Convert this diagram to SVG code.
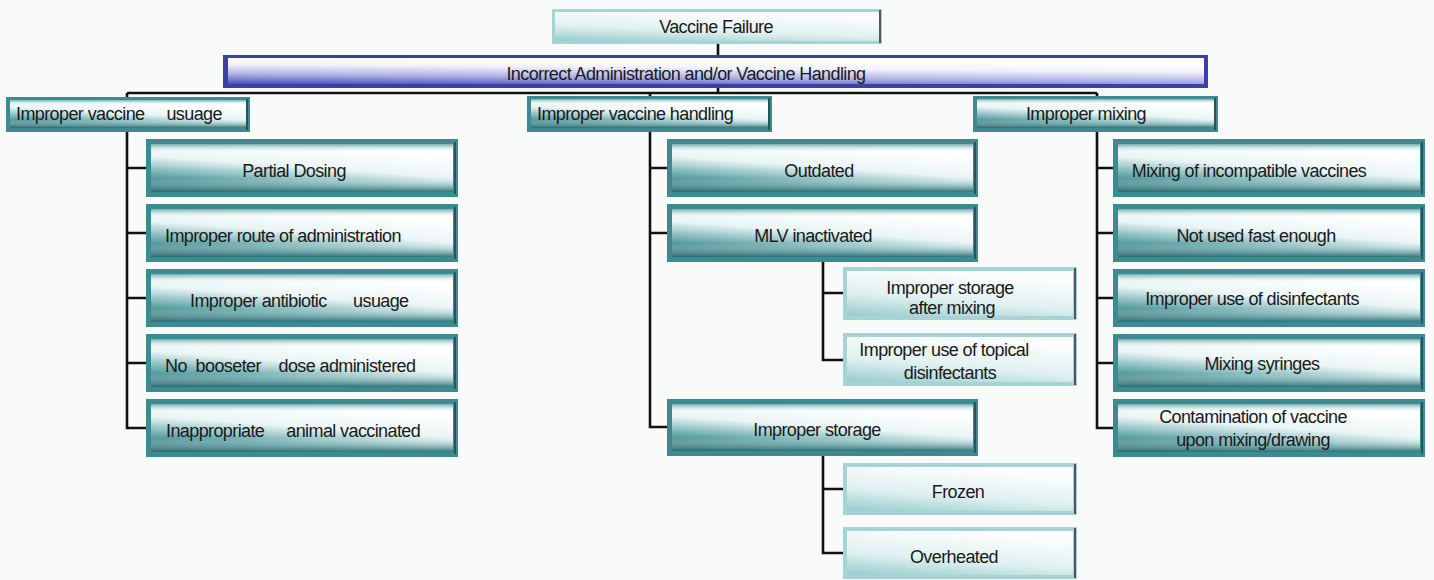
<svg xmlns="http://www.w3.org/2000/svg" width="1434" height="580" viewBox="0 0 1434 580">
<defs>
<linearGradient id="tealFace" x1="0" y1="1" x2="0.45" y2="0">
<stop offset="0" stop-color="#1f6367"/>
<stop offset="0.3" stop-color="#66a8ab"/>
<stop offset="0.62" stop-color="#eaf5f5"/>
<stop offset="1" stop-color="#ffffff"/>
</linearGradient>
<linearGradient id="tealShade" x1="0" y1="0" x2="0" y2="1">
<stop offset="0" stop-color="#4f9a9e" stop-opacity="0.8"/>
<stop offset="0.18" stop-color="#ffffff" stop-opacity="0"/>
<stop offset="0.72" stop-color="#ffffff" stop-opacity="0"/>
<stop offset="1" stop-color="#266c71" stop-opacity="0.9"/>
</linearGradient>
<linearGradient id="lightFace" x1="0" y1="1" x2="0.4" y2="0">
<stop offset="0" stop-color="#97cbcd"/>
<stop offset="0.45" stop-color="#dff0f0"/>
<stop offset="1" stop-color="#fbfdfd"/>
</linearGradient>
<linearGradient id="blueFace" x1="0" y1="1" x2="0.3" y2="0">
<stop offset="0" stop-color="#4a50b8"/>
<stop offset="0.35" stop-color="#aeb2e4"/>
<stop offset="0.7" stop-color="#f2f2fb"/>
<stop offset="1" stop-color="#ffffff"/>
</linearGradient>
</defs>
<style>
.out{fill:#3d8b90}
.in{fill:url(#tealFace)}
.sh{fill:url(#tealShade)}
.lout{fill:#a8d3d5}
.lin{fill:url(#lightFace)}
.edge{stroke:#4a5a5c;stroke-width:2}
.tedge{stroke:#24575b;stroke-width:2}
.bout{fill:#3b40a6}
.bin{fill:url(#blueFace)}
text{font-family:"Liberation Sans",Arial,sans-serif;font-size:18px;fill:#1a1a1a;letter-spacing:-0.6px}
.m{text-anchor:middle}
#connectors path{fill:none;stroke:#111;stroke-width:2.6}
</style>
<rect width="1434" height="580" fill="#f9fafa"/>

<g id="connectors">
<path d="M718,44V55M718,88V94"/>
<path d="M127,93H1097M127,93V97M650,93V96M1097,93V96"/>
<path d="M127,132V428H146M127,168H146M127,233H146M127,298H146M127,363H146"/>
<path d="M650,132V427H667M650,168H667M650,233H667"/>
<path d="M823,262V360H843M823,293H843"/>
<path d="M823,456V553H843M823,489H843"/>
<path d="M1097,132V428H1113M1097,168H1113M1097,233H1113M1097,298H1113M1097,363H1113"/>
</g>

<g id="vaccine-failure">
<rect class="lout" x="552" y="9" width="330" height="35"/>
<rect class="lin" x="555" y="12" width="324" height="29"/>
<line class="edge" x1="880" y1="10" x2="880" y2="43"/>
<text class="m" x="716" y="33">Vaccine Failure</text>
</g>

<g id="incorrect-admin">
<rect class="bout" x="223" y="55" width="985" height="33"/>
<rect class="bin" x="228" y="58" width="976" height="26"/>
<text class="m" x="686" y="80">Incorrect Administration and/or Vaccine Handling</text>
</g>

<g id="improper-usage">
<rect class="out" x="6" y="97" width="244" height="35"/>
<rect class="in" x="10" y="100" width="236" height="28"/>
<rect class="sh" x="10" y="100" width="236" height="28"/>
<line class="tedge" x1="247" y1="99" x2="247" y2="130"/>
<text x="16" y="120" xml:space="preserve">Improper vaccine     usuage</text>
</g>

<g id="improper-handling">
<rect class="out" x="527" y="96" width="245" height="36"/>
<rect class="in" x="531" y="99" width="237" height="29"/>
<rect class="sh" x="531" y="99" width="237" height="29"/>
<line class="tedge" x1="769" y1="98" x2="769" y2="130"/>
<text x="537" y="120">Improper vaccine handling</text>
</g>

<g id="improper-mixing">
<rect class="out" x="973" y="96" width="245" height="36"/>
<rect class="in" x="977" y="99" width="237" height="29"/>
<rect class="sh" x="977" y="99" width="237" height="29"/>
<line class="tedge" x1="1215" y1="98" x2="1215" y2="130"/>
<text class="m" x="1086" y="120">Improper mixing</text>
</g>

<g id="partial-dosing">
<rect class="out" x="146" y="139" width="312" height="58"/>
<rect class="in" x="151" y="144" width="302" height="48"/>
<rect class="sh" x="151" y="144" width="302" height="48"/>
<line class="tedge" x1="455" y1="142" x2="455" y2="194"/>
<text class="m" x="294" y="177">Partial Dosing</text>
</g>
<g id="improper-route">
<rect class="out" x="146" y="204" width="312" height="58"/>
<rect class="in" x="151" y="209" width="302" height="48"/>
<rect class="sh" x="151" y="209" width="302" height="48"/>
<line class="tedge" x1="455" y1="207" x2="455" y2="259"/>
<text x="165" y="242">Improper route of administration</text>
</g>
<g id="improper-antibiotic">
<rect class="out" x="146" y="269" width="312" height="58"/>
<rect class="in" x="151" y="274" width="302" height="48"/>
<rect class="sh" x="151" y="274" width="302" height="48"/>
<line class="tedge" x1="455" y1="272" x2="455" y2="324"/>
<text x="190" y="307" xml:space="preserve">Improper antibiotic      usuage</text>
</g>
<g id="no-booster">
<rect class="out" x="146" y="334" width="312" height="58"/>
<rect class="in" x="151" y="339" width="302" height="48"/>
<rect class="sh" x="151" y="339" width="302" height="48"/>
<line class="tedge" x1="455" y1="337" x2="455" y2="389"/>
<text x="165" y="372" xml:space="preserve">No  booseter    dose administered</text>
</g>
<g id="inappropriate-animal">
<rect class="out" x="146" y="399" width="312" height="58"/>
<rect class="in" x="151" y="404" width="302" height="48"/>
<rect class="sh" x="151" y="404" width="302" height="48"/>
<line class="tedge" x1="455" y1="402" x2="455" y2="454"/>
<text x="166" y="437" xml:space="preserve">Inappropriate     animal vaccinated</text>
</g>

<g id="outdated">
<rect class="out" x="667" y="139" width="311" height="58"/>
<rect class="in" x="672" y="144" width="301" height="48"/>
<rect class="sh" x="672" y="144" width="301" height="48"/>
<line class="tedge" x1="975" y1="142" x2="975" y2="194"/>
<text class="m" x="819" y="177">Outdated</text>
</g>
<g id="mlv-inactivated">
<rect class="out" x="667" y="204" width="311" height="58"/>
<rect class="in" x="672" y="209" width="301" height="48"/>
<rect class="sh" x="672" y="209" width="301" height="48"/>
<line class="tedge" x1="975" y1="207" x2="975" y2="259"/>
<text class="m" x="813" y="242">MLV inactivated</text>
</g>
<g id="storage-after-mixing">
<rect class="lout" x="843" y="267" width="234" height="53"/>
<rect class="lin" x="847" y="271" width="226" height="45"/>
<line class="edge" x1="1075" y1="268" x2="1075" y2="319"/>
<text class="m" x="950" y="294">Improper storage</text>
<text class="m" x="952" y="314">after mixing</text>
</g>
<g id="topical-disinfectants">
<rect class="lout" x="843" y="333" width="234" height="53"/>
<rect class="lin" x="847" y="337" width="226" height="45"/>
<line class="edge" x1="1075" y1="334" x2="1075" y2="385"/>
<text class="m" x="944" y="356">Improper use of topical</text>
<text class="m" x="950" y="379">disinfectants</text>
</g>
<g id="improper-storage">
<rect class="out" x="667" y="399" width="311" height="57"/>
<rect class="in" x="672" y="404" width="301" height="47"/>
<rect class="sh" x="672" y="404" width="301" height="47"/>
<line class="tedge" x1="975" y1="402" x2="975" y2="453"/>
<text class="m" x="817" y="436">Improper storage</text>
</g>
<g id="frozen">
<rect class="lout" x="843" y="463" width="234" height="52"/>
<rect class="lin" x="847" y="467" width="226" height="44"/>
<line class="edge" x1="1075" y1="464" x2="1075" y2="514"/>
<text class="m" x="958" y="498">Frozen</text>
</g>
<g id="overheated">
<rect class="lout" x="843" y="527" width="234" height="52"/>
<rect class="lin" x="847" y="531" width="226" height="44"/>
<line class="edge" x1="1075" y1="528" x2="1075" y2="578"/>
<text class="m" x="954" y="563">Overheated</text>
</g>

<g id="incompatible-vaccines">
<rect class="out" x="1113" y="139" width="312" height="58"/>
<rect class="in" x="1118" y="144" width="302" height="48"/>
<rect class="sh" x="1118" y="144" width="302" height="48"/>
<line class="tedge" x1="1422" y1="142" x2="1422" y2="194"/>
<text class="m" x="1249" y="177">Mixing of incompatible vaccines</text>
</g>
<g id="not-used-fast">
<rect class="out" x="1113" y="204" width="312" height="58"/>
<rect class="in" x="1118" y="209" width="302" height="48"/>
<rect class="sh" x="1118" y="209" width="302" height="48"/>
<line class="tedge" x1="1422" y1="207" x2="1422" y2="259"/>
<text class="m" x="1256" y="242">Not used fast enough</text>
</g>
<g id="disinfectants">
<rect class="out" x="1113" y="269" width="312" height="58"/>
<rect class="in" x="1118" y="274" width="302" height="48"/>
<rect class="sh" x="1118" y="274" width="302" height="48"/>
<line class="tedge" x1="1422" y1="272" x2="1422" y2="324"/>
<text class="m" x="1252" y="305">Improper use of disinfectants</text>
</g>
<g id="mixing-syringes">
<rect class="out" x="1113" y="334" width="312" height="58"/>
<rect class="in" x="1118" y="339" width="302" height="48"/>
<rect class="sh" x="1118" y="339" width="302" height="48"/>
<line class="tedge" x1="1422" y1="337" x2="1422" y2="389"/>
<text class="m" x="1262" y="370">Mixing syringes</text>
</g>
<g id="contamination">
<rect class="out" x="1113" y="399" width="312" height="58"/>
<rect class="in" x="1118" y="404" width="302" height="48"/>
<rect class="sh" x="1118" y="404" width="302" height="48"/>
<line class="tedge" x1="1422" y1="402" x2="1422" y2="454"/>
<text class="m" x="1253" y="423">Contamination of vaccine</text>
<text class="m" x="1253" y="446">upon mixing/drawing</text>
</g>
</svg>
